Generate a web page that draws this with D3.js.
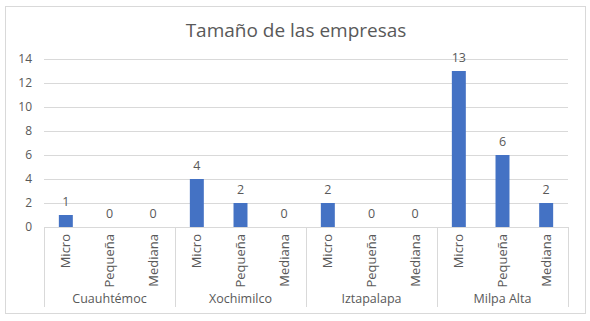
<!DOCTYPE html>
<html>
<head>
<meta charset="utf-8">
<script src="https://cdn.jsdelivr.net/npm/d3@7"></script>
<style>
  body { margin: 0; background: #fff; }
  text { font-family: "Open Sans", "Noto Sans", sans-serif; fill: #595959; }
</style>
</head>
<body>
<svg width="590" height="321"></svg>
<script>
const groups = ['Cuauhtémoc', 'Xochimilco', 'Iztapalapa', 'Milpa Alta'];
const sizes = ['Micro', 'Pequeña', 'Mediana'];
const counts = [
  [1, 0, 0],
  [4, 2, 0],
  [2, 0, 0],
  [13, 6, 2]
];
const yTicks = [0, 2, 4, 6, 8, 10, 12, 14];
const title = 'Tamaño de las empresas';

const svg = d3.select('svg');

// flat rows, one per bar
const rows = [];
groups.forEach((g, i) => sizes.forEach((s, j) => rows.push({ group: g, size: s, value: counts[i][j], key: g + '|' + s })));

const plot = { left: 44, right: 568, top: 59, bottom: 227 };

// chart frame
svg.append('rect')
  .attr('x', 5.5).attr('y', 6.5)
  .attr('width', 580).attr('height', 307)
  .attr('fill', '#fff')
  .attr('stroke', '#d9d9d9');

svg.append('text')
  .attr('x', 296).attr('y', 37)
  .attr('text-anchor', 'middle')
  .style('font-size', '19px')
  .text(title);

const xScale = d3.scaleBand()
  .domain(rows.map(d => d.key))
  .range([plot.left, plot.right])
  .paddingInner(0.68)
  .paddingOuter(0.34);

const groupScale = d3.scaleBand()
  .domain(groups)
  .range([plot.left, plot.right]);

const yScale = d3.scaleLinear()
  .domain([0, 14])
  .range([plot.bottom, plot.top]);

const yAxis = d3.axisLeft(yScale)
  .tickValues(yTicks)
  .tickSize(-(plot.right - plot.left))
  .tickPadding(12);

const yAxisG = svg.append('g')
  .attr('transform', `translate(${plot.left},0)`)
  .call(yAxis);
yAxisG.select('.domain').remove();
yAxisG.selectAll('line').attr('stroke', '#d9d9d9');
yAxisG.selectAll('text').style('font-size', '12px').attr('fill', '#595959');

// bars
svg.selectAll('.bar')
  .data(rows)
  .enter().append('rect')
  .attr('class', 'bar')
  .attr('x', d => xScale(d.key))
  .attr('width', xScale.bandwidth())
  .attr('y', d => yScale(d.value))
  .attr('height', d => yScale(0) - yScale(d.value))
  .attr('fill', '#4472c4');

// data labels
svg.selectAll('.lbl')
  .data(rows)
  .enter().append('text')
  .attr('class', 'lbl')
  .attr('x', d => xScale(d.key) + xScale.bandwidth() / 2)
  .attr('y', d => yScale(d.value) - 9)
  .attr('text-anchor', 'middle')
  .style('font-size', '12.5px')
  .text(d => d.value);

// category axis
const axisG = svg.append('g');
axisG.append('line')
  .attr('x1', plot.left).attr('x2', plot.right)
  .attr('y1', plot.bottom + 0.5).attr('y2', plot.bottom + 0.5)
  .attr('stroke', '#d9d9d9');

const bounds = groups.map(g => groupScale(g)).concat([plot.right]);
axisG.selectAll('.sep')
  .data(bounds)
  .enter().append('line')
  .attr('x1', d => Math.round(d) + 0.5).attr('x2', d => Math.round(d) + 0.5)
  .attr('y1', plot.bottom).attr('y2', 307)
  .attr('stroke', '#d9d9d9');

axisG.selectAll('.sub')
  .data(rows)
  .enter().append('text')
  .attr('transform', d => `translate(${xScale(d.key) + xScale.bandwidth() / 2 + 4.5},${plot.bottom + 7}) rotate(-90)`)
  .attr('text-anchor', 'end')
  .style('font-size', '13px')
  .text(d => d.size);

axisG.selectAll('.grp')
  .data(groups)
  .enter().append('text')
  .attr('x', d => groupScale(d) + groupScale.bandwidth() / 2)
  .attr('y', 303)
  .attr('text-anchor', 'middle')
  .style('font-size', '12.5px')
  .text(d => d);
</script>
</body>
</html>
